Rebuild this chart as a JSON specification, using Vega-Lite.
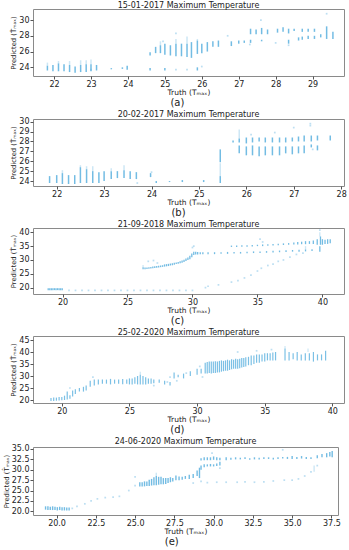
{
"$schema": "https://vega.github.io/schema/vega-lite/v6.json",
"padding": {"left": 2, "top": 1, "right": 2, "bottom": 0},
"columns": 1,
"align": "none",
"spacing": 2,
"config": {
  "font": "DejaVu Sans",
  "view": {"stroke": "#8a8a8a", "strokeWidth": 1},
  "axis": {"grid": false, "domain": false, "tickColor": "#555", "tickSize": 3, "labelFontSize": 8, "labelColor": "#222", "titleFontWeight": "normal", "titleColor": "#222", "labelPadding": 1, "labelOverlap": false, "labelFlush": false},
  "axisX": {"titlePadding": 0, "titleFontSize": 7.5},
  "axisY": {"titlePadding": 2, "titleFontSize": 6.8},
  "title": {"fontSize": 8, "fontWeight": "normal", "color": "#222", "offset": -1, "anchor": "middle"}
},
"datasets": {
  "a_core": [
    {"truth":21.82,"pred":23.6,"pred_hi":24.2},{"truth":21.97,"pred":23.5,"pred_hi":24.3},{"truth":22.12,"pred":23.5,"pred_hi":24.5},{"truth":22.27,"pred":23.5,"pred_hi":24.4},{"truth":22.42,"pred":23.4,"pred_hi":24.3},{"truth":22.57,"pred":23.3,"pred_hi":24.1},{"truth":22.72,"pred":23.4,"pred_hi":24.3},{"truth":22.87,"pred":23.4,"pred_hi":24.4},{"truth":23.0,"pred":23.5,"pred_hi":24.4},{"truth":23.15,"pred":23.6,"pred_hi":24.3},{"truth":23.55,"pred":23.75,"pred_hi":23.9},{"truth":23.85,"pred":23.8,"pred_hi":24.0},{"truth":23.98,"pred":23.7,"pred_hi":24.2},
    {"truth":24.6,"pred":25.5,"pred_hi":25.9},{"truth":24.6,"pred":23.6,"pred_hi":23.9},{"truth":24.75,"pred":25.8,"pred_hi":26.6},{"truth":24.88,"pred":25.8,"pred_hi":26.8},{"truth":25.0,"pred":25.6,"pred_hi":27.0},{"truth":25.0,"pred":23.6,"pred_hi":23.9},{"truth":25.15,"pred":25.5,"pred_hi":26.8},{"truth":25.3,"pred":25.4,"pred_hi":27.0},{"truth":25.45,"pred":25.4,"pred_hi":27.0},{"truth":25.6,"pred":25.3,"pred_hi":27.0},{"truth":25.72,"pred":25.2,"pred_hi":27.2},{"truth":25.88,"pred":25.7,"pred_hi":27.4},{"truth":25.88,"pred":23.6,"pred_hi":24.0},{"truth":26.0,"pred":25.8,"pred_hi":27.0},{"truth":26.15,"pred":26.0,"pred_hi":27.2},{"truth":26.3,"pred":26.6,"pred_hi":27.3},{"truth":26.45,"pred":26.6,"pred_hi":27.4},
    {"truth":26.8,"pred":26.7,"pred_hi":27.3},{"truth":27.0,"pred":27.0,"pred_hi":27.4},{"truth":27.15,"pred":27.1,"pred_hi":27.4},{"truth":27.32,"pred":27.1,"pred_hi":27.5},{"truth":27.32,"pred":28.2,"pred_hi":28.9},{"truth":27.47,"pred":28.2,"pred_hi":28.8},{"truth":27.62,"pred":28.2,"pred_hi":29.0},{"truth":27.62,"pred":27.3,"pred_hi":27.5},{"truth":27.78,"pred":28.2,"pred_hi":28.8},{"truth":28.05,"pred":28.4,"pred_hi":28.9},{"truth":28.2,"pred":28.5,"pred_hi":29.1},{"truth":28.35,"pred":28.3,"pred_hi":28.9},{"truth":28.35,"pred":27.0,"pred_hi":27.5},{"truth":28.5,"pred":28.6,"pred_hi":28.9},{"truth":28.62,"pred":27.4,"pred_hi":27.8},{"truth":28.72,"pred":28.5,"pred_hi":28.9},{"truth":28.72,"pred":27.5,"pred_hi":27.9},{"truth":28.88,"pred":28.5,"pred_hi":28.9},{"truth":28.88,"pred":27.6,"pred_hi":28.0},{"truth":29.05,"pred":28.5,"pred_hi":28.9},{"truth":29.05,"pred":27.6,"pred_hi":28.0},{"truth":29.22,"pred":27.8,"pred_hi":28.2},{"truth":29.38,"pred":27.6,"pred_hi":29.2},{"truth":29.55,"pred":27.6,"pred_hi":28.5}
  ],
  "a_faint": [
    {"truth":21.82,"pred":24.2,"pred_hi":24.6},{"truth":22.12,"pred":24.5,"pred_hi":24.8},{"truth":22.42,"pred":24.3,"pred_hi":24.8},{"truth":22.72,"pred":24.3,"pred_hi":24.9},{"truth":23.0,"pred":24.4,"pred_hi":25.0},{"truth":22.87,"pred":24.4,"pred_hi":24.9},{"truth":25.3,"pred":27.0,"pred_hi":27.6},{"truth":24.88,"pred":26.8,"pred_hi":27.3},{"truth":25.6,"pred":27.0,"pred_hi":27.9},{"truth":25.88,"pred":27.4,"pred_hi":27.6}
  ],
  "a_pts": [
    {"truth":27.6,"pred":30.0},{"truth":29.38,"pred":30.8},{"truth":26.7,"pred":28.0},{"truth":25.3,"pred":28.3},{"truth":24.95,"pred":27.3},{"truth":25.6,"pred":23.7},{"truth":25.3,"pred":23.7},{"truth":26.0,"pred":24.1},{"truth":28.35,"pred":26.8},{"truth":27.3,"pred":26.9},{"truth":28.0,"pred":27.1},{"truth":23.0,"pred":23.7}
  ],
  "b_core": [
    {"truth":21.85,"pred":23.8,"pred_hi":24.5},{"truth":22.0,"pred":23.8,"pred_hi":24.6},{"truth":22.12,"pred":23.7,"pred_hi":24.8},{"truth":22.25,"pred":23.7,"pred_hi":24.6},{"truth":22.38,"pred":23.7,"pred_hi":24.6},{"truth":22.5,"pred":23.8,"pred_hi":25.4},{"truth":22.63,"pred":23.8,"pred_hi":25.2},{"truth":22.76,"pred":23.8,"pred_hi":25.0},{"truth":22.89,"pred":23.8,"pred_hi":24.9},{"truth":23.0,"pred":24.0,"pred_hi":25.0},{"truth":23.15,"pred":24.2,"pred_hi":25.0},{"truth":23.28,"pred":24.3,"pred_hi":25.0},{"truth":23.42,"pred":24.3,"pred_hi":25.1},{"truth":23.55,"pred":24.2,"pred_hi":25.0},{"truth":23.68,"pred":24.2,"pred_hi":24.9},{"truth":23.98,"pred":24.4,"pred_hi":24.8},{"truth":24.1,"pred":23.8,"pred_hi":24.0},{"truth":24.38,"pred":23.9,"pred_hi":24.0},{"truth":24.65,"pred":23.9,"pred_hi":24.1},{"truth":25.1,"pred":23.9,"pred_hi":24.1},
    {"truth":25.45,"pred":25.9,"pred_hi":27.2},{"truth":25.45,"pred":23.8,"pred_hi":24.5},{"truth":25.72,"pred":27.9,"pred_hi":28.1},{"truth":25.85,"pred":26.8,"pred_hi":27.6},{"truth":25.85,"pred":27.9,"pred_hi":28.3},
    {"truth":26.0,"pred":26.6,"pred_hi":27.5},{"truth":26.0,"pred":27.8,"pred_hi":28.4},{"truth":26.13,"pred":26.6,"pred_hi":27.6},{"truth":26.13,"pred":27.9,"pred_hi":28.4},{"truth":26.27,"pred":26.5,"pred_hi":27.5},{"truth":26.27,"pred":28.0,"pred_hi":28.4},{"truth":26.4,"pred":26.6,"pred_hi":27.5},{"truth":26.4,"pred":27.9,"pred_hi":28.4},{"truth":26.55,"pred":26.6,"pred_hi":27.5},{"truth":26.55,"pred":27.9,"pred_hi":28.4},{"truth":26.7,"pred":26.6,"pred_hi":27.5},{"truth":26.7,"pred":27.9,"pred_hi":28.4},{"truth":26.83,"pred":26.8,"pred_hi":27.5},{"truth":26.83,"pred":27.9,"pred_hi":28.4},{"truth":26.97,"pred":26.7,"pred_hi":27.5},{"truth":26.97,"pred":28.0,"pred_hi":28.4},{"truth":27.1,"pred":26.8,"pred_hi":27.5},{"truth":27.1,"pred":28.0,"pred_hi":28.5},{"truth":27.22,"pred":26.8,"pred_hi":27.6},{"truth":27.22,"pred":28.0,"pred_hi":28.6},{"truth":27.37,"pred":27.4,"pred_hi":27.7},{"truth":27.37,"pred":28.0,"pred_hi":28.6},{"truth":27.5,"pred":27.1,"pred_hi":27.6},{"truth":27.5,"pred":28.1,"pred_hi":28.6},{"truth":27.77,"pred":28.1,"pred_hi":28.6}
  ],
  "b_faint": [
    {"truth":22.12,"pred":24.8,"pred_hi":25.1},{"truth":22.5,"pred":25.4,"pred_hi":25.6},{"truth":22.63,"pred":25.2,"pred_hi":25.5},{"truth":22.76,"pred":25.0,"pred_hi":25.5},{"truth":23.42,"pred":25.1,"pred_hi":25.6},{"truth":23.15,"pred":25.0,"pred_hi":25.3},{"truth":25.45,"pred":24.5,"pred_hi":25.8},{"truth":25.85,"pred":28.3,"pred_hi":29.2}
  ],
  "b_pts": [
    {"truth":27.0,"pred":29.4},{"truth":27.35,"pred":29.8},{"truth":27.35,"pred":29.6},{"truth":26.6,"pred":28.9},{"truth":26.1,"pred":28.7},{"truth":24.0,"pred":24.9},{"truth":23.7,"pred":23.8},{"truth":27.4,"pred":27.2}
  ],
  "c_core": [
    {"truth":18.9,"pred":19.1,"pred_hi":19.8},{"truth":19.02,"pred":19.1,"pred_hi":19.8},{"truth":19.14,"pred":19.1,"pred_hi":19.8},{"truth":19.26,"pred":19.1,"pred_hi":19.8},{"truth":19.38,"pred":19.1,"pred_hi":19.8},{"truth":19.5,"pred":19.1,"pred_hi":19.8},{"truth":19.62,"pred":19.1,"pred_hi":19.8},{"truth":19.74,"pred":19.1,"pred_hi":19.8},{"truth":19.86,"pred":19.1,"pred_hi":19.8},{"truth":19.98,"pred":19.1,"pred_hi":19.8},
    {"truth":26.2,"pred":26.6,"pred_hi":27.4},{"truth":26.35,"pred":26.6,"pred_hi":27.3},{"truth":26.5,"pred":26.7,"pred_hi":27.3},{"truth":26.65,"pred":26.8,"pred_hi":27.4},{"truth":26.8,"pred":26.9,"pred_hi":27.5},{"truth":26.95,"pred":27.0,"pred_hi":27.6},{"truth":27.1,"pred":27.1,"pred_hi":27.7},{"truth":27.25,"pred":27.2,"pred_hi":27.8},{"truth":27.4,"pred":27.3,"pred_hi":27.9},{"truth":27.55,"pred":27.4,"pred_hi":28.0},{"truth":27.7,"pred":27.5,"pred_hi":28.1},{"truth":27.85,"pred":27.6,"pred_hi":28.4},{"truth":28.0,"pred":27.7,"pred_hi":28.5},{"truth":28.15,"pred":27.8,"pred_hi":28.6},{"truth":28.3,"pred":28.0,"pred_hi":28.7},{"truth":28.45,"pred":28.1,"pred_hi":28.8},{"truth":28.6,"pred":28.3,"pred_hi":29.0},{"truth":28.75,"pred":28.5,"pred_hi":29.1},{"truth":28.9,"pred":28.6,"pred_hi":29.3},{"truth":29.05,"pred":28.8,"pred_hi":29.5},{"truth":29.2,"pred":29.0,"pred_hi":29.8},{"truth":29.35,"pred":29.3,"pred_hi":30.1},{"truth":29.5,"pred":29.6,"pred_hi":30.5},{"truth":29.65,"pred":30.0,"pred_hi":30.9},{"truth":29.8,"pred":30.3,"pred_hi":31.5},{"truth":29.95,"pred":31.0,"pred_hi":32.3},{"truth":30.1,"pred":31.8,"pred_hi":33.0},{"truth":30.25,"pred":32.0,"pred_hi":33.0},{"truth":30.4,"pred":32.0,"pred_hi":32.9},{"truth":30.6,"pred":32.1,"pred_hi":32.8},{"truth":30.8,"pred":32.1,"pred_hi":32.8},
    {"truth":31.2,"pred":32.1,"pred_hi":32.8},{"truth":31.7,"pred":32.1,"pred_hi":32.8},{"truth":32.2,"pred":32.2,"pred_hi":32.8},{"truth":32.7,"pred":32.2,"pred_hi":32.9},{"truth":33.2,"pred":32.3,"pred_hi":32.9},{"truth":33.7,"pred":32.3,"pred_hi":32.9},{"truth":34.2,"pred":32.4,"pred_hi":33.0},{"truth":34.7,"pred":32.5,"pred_hi":33.1},{"truth":35.2,"pred":32.5,"pred_hi":33.1},{"truth":35.7,"pred":32.6,"pred_hi":33.2},{"truth":36.2,"pred":32.7,"pred_hi":33.3},{"truth":36.7,"pred":32.8,"pred_hi":33.4},{"truth":37.2,"pred":32.9,"pred_hi":33.5},{"truth":37.7,"pred":33.0,"pred_hi":33.6},{"truth":38.2,"pred":33.0,"pred_hi":33.7},{"truth":38.7,"pred":33.1,"pred_hi":33.8},{"truth":39.2,"pred":33.2,"pred_hi":33.9},
    {"truth":33.0,"pred":34.7,"pred_hi":35.2},{"truth":33.4,"pred":34.7,"pred_hi":35.2},{"truth":33.8,"pred":34.8,"pred_hi":35.3},{"truth":34.2,"pred":34.8,"pred_hi":35.3},{"truth":34.6,"pred":34.9,"pred_hi":35.4},{"truth":35.0,"pred":35.0,"pred_hi":35.5},{"truth":35.4,"pred":35.0,"pred_hi":35.6},{"truth":35.8,"pred":35.1,"pred_hi":35.7},{"truth":36.2,"pred":35.2,"pred_hi":35.8},{"truth":36.6,"pred":35.3,"pred_hi":35.9},{"truth":37.0,"pred":35.4,"pred_hi":36.0},{"truth":37.4,"pred":35.5,"pred_hi":36.1},{"truth":37.8,"pred":35.6,"pred_hi":36.3},{"truth":38.1,"pred":35.6,"pred_hi":36.5},{"truth":38.4,"pred":35.7,"pred_hi":36.6},{"truth":38.7,"pred":35.7,"pred_hi":36.8},{"truth":39.0,"pred":35.8,"pred_hi":36.8},{"truth":39.3,"pred":35.8,"pred_hi":37.0},
    {"truth":39.6,"pred":35.5,"pred_hi":37.5},{"truth":39.8,"pred":33.0,"pred_hi":35.0},{"truth":39.85,"pred":35.5,"pred_hi":38.5},{"truth":40.0,"pred":35.5,"pred_hi":37.5},{"truth":40.2,"pred":35.8,"pred_hi":37.3},{"truth":40.4,"pred":35.8,"pred_hi":37.5},{"truth":40.6,"pred":36.0,"pred_hi":37.5}
  ],
  "c_faint": [
    {"truth":26.2,"pred":27.4,"pred_hi":28.2},{"truth":38.7,"pred":33.8,"pred_hi":35.0},{"truth":39.8,"pred":38.5,"pred_hi":40.0}
  ],
  "c_pts": [
    {"truth":20.5,"pred":19.0},{"truth":21.0,"pred":19.0},{"truth":21.5,"pred":19.0},{"truth":22.0,"pred":19.0},{"truth":22.5,"pred":19.0},{"truth":23.0,"pred":19.0},{"truth":23.5,"pred":19.0},{"truth":24.0,"pred":19.0},{"truth":24.5,"pred":19.0},{"truth":25.0,"pred":19.0},{"truth":25.5,"pred":19.0},{"truth":26.0,"pred":19.0},{"truth":26.5,"pred":19.0},{"truth":27.0,"pred":19.0},{"truth":27.5,"pred":19.0},{"truth":28.0,"pred":19.0},{"truth":28.5,"pred":19.0},{"truth":29.0,"pred":19.0},{"truth":29.5,"pred":19.0},{"truth":30.0,"pred":19.0},
    {"truth":26.6,"pred":29.5},{"truth":27.0,"pred":29.8},{"truth":27.3,"pred":28.9},{"truth":30.0,"pred":34.5},{"truth":30.1,"pred":35.0},{"truth":35.2,"pred":37.5},{"truth":35.4,"pred":36.5},{"truth":39.8,"pred":40.8},
    {"truth":31.0,"pred":20.0},{"truth":31.2,"pred":20.5},{"truth":32.0,"pred":21.0},{"truth":33.0,"pred":22.0},{"truth":33.5,"pred":22.5},{"truth":34.0,"pred":23.5},{"truth":34.5,"pred":24.5},{"truth":35.0,"pred":26.0},{"truth":35.3,"pred":27.0},{"truth":35.8,"pred":28.0},{"truth":36.2,"pred":28.5},{"truth":36.6,"pred":29.5},{"truth":37.0,"pred":30.0},{"truth":37.5,"pred":31.0},{"truth":38.0,"pred":32.0},{"truth":38.5,"pred":32.5}
  ],
  "d_core": [
    {"truth":19.2,"pred":19.6,"pred_hi":20.8},{"truth":19.4,"pred":19.6,"pred_hi":21.0},{"truth":19.6,"pred":19.7,"pred_hi":21.0},{"truth":19.8,"pred":19.8,"pred_hi":21.2},{"truth":20.0,"pred":19.9,"pred_hi":21.3},{"truth":20.2,"pred":20.0,"pred_hi":21.8},{"truth":20.4,"pred":20.2,"pred_hi":23.5},{"truth":20.6,"pred":20.5,"pred_hi":22.0},{"truth":20.8,"pred":21.5,"pred_hi":24.0},{"truth":21.0,"pred":22.5,"pred_hi":24.5},{"truth":21.3,"pred":23.5,"pred_hi":25.0},{"truth":21.6,"pred":23.5,"pred_hi":25.5},{"truth":21.8,"pred":24.0,"pred_hi":26.0},
    {"truth":22.1,"pred":25.5,"pred_hi":28.0},{"truth":22.4,"pred":26.0,"pred_hi":28.5},{"truth":22.7,"pred":26.5,"pred_hi":28.5},{"truth":23.0,"pred":26.8,"pred_hi":28.5},{"truth":23.3,"pred":26.8,"pred_hi":28.5},{"truth":23.6,"pred":26.5,"pred_hi":28.8},{"truth":23.9,"pred":26.8,"pred_hi":28.5},{"truth":24.2,"pred":26.8,"pred_hi":28.5},{"truth":24.5,"pred":26.6,"pred_hi":28.8},{"truth":24.8,"pred":26.8,"pred_hi":28.5},{"truth":25.0,"pred":26.5,"pred_hi":29.0},{"truth":25.2,"pred":26.5,"pred_hi":29.0},{"truth":25.4,"pred":26.8,"pred_hi":29.5},{"truth":25.6,"pred":26.5,"pred_hi":30.0},{"truth":25.8,"pred":26.5,"pred_hi":30.5},{"truth":26.0,"pred":26.5,"pred_hi":30.0},{"truth":26.2,"pred":26.5,"pred_hi":29.5},{"truth":26.4,"pred":26.8,"pred_hi":29.0},{"truth":26.6,"pred":26.8,"pred_hi":29.0},{"truth":26.8,"pred":27.0,"pred_hi":28.5},{"truth":27.2,"pred":27.2,"pred_hi":28.5},{"truth":27.6,"pred":26.5,"pred_hi":28.0},{"truth":28.0,"pred":26.0,"pred_hi":27.5},
    {"truth":28.3,"pred":29.0,"pred_hi":31.5},{"truth":28.6,"pred":29.5,"pred_hi":30.5},{"truth":29.0,"pred":29.0,"pred_hi":31.0},{"truth":29.5,"pred":30.0,"pred_hi":32.0},{"truth":30.0,"pred":30.5,"pred_hi":33.0},{"truth":30.3,"pred":31.0,"pred_hi":33.0},
    {"truth":30.6,"pred":31.0,"pred_hi":35.5},{"truth":30.75,"pred":31.0,"pred_hi":35.8},{"truth":30.9,"pred":31.2,"pred_hi":36.0},{"truth":31.05,"pred":31.0,"pred_hi":36.0},{"truth":31.2,"pred":31.3,"pred_hi":36.0},{"truth":31.35,"pred":31.2,"pred_hi":36.2},{"truth":31.5,"pred":31.5,"pred_hi":36.0},{"truth":31.65,"pred":31.5,"pred_hi":36.3},{"truth":31.8,"pred":31.8,"pred_hi":36.5},{"truth":31.95,"pred":32.0,"pred_hi":36.3},{"truth":32.1,"pred":32.2,"pred_hi":36.5},{"truth":32.25,"pred":32.2,"pred_hi":36.8},{"truth":32.4,"pred":32.5,"pred_hi":36.5},{"truth":32.55,"pred":32.8,"pred_hi":37.0},{"truth":32.7,"pred":33.0,"pred_hi":36.8},{"truth":32.85,"pred":33.0,"pred_hi":37.2},{"truth":33.0,"pred":33.0,"pred_hi":37.0},{"truth":33.15,"pred":33.2,"pred_hi":37.2},{"truth":33.3,"pred":33.5,"pred_hi":37.5},{"truth":33.45,"pred":33.8,"pred_hi":37.5},{"truth":33.6,"pred":34.0,"pred_hi":37.8},{"truth":33.8,"pred":34.5,"pred_hi":38.0},{"truth":34.0,"pred":34.5,"pred_hi":38.5},{"truth":34.2,"pred":35.0,"pred_hi":38.5},{"truth":34.4,"pred":35.5,"pred_hi":39.0},{"truth":34.6,"pred":35.5,"pred_hi":39.0},{"truth":34.8,"pred":36.0,"pred_hi":39.0},{"truth":35.0,"pred":36.0,"pred_hi":39.5},{"truth":35.2,"pred":36.5,"pred_hi":39.5},{"truth":35.4,"pred":36.5,"pred_hi":39.5},{"truth":35.6,"pred":36.5,"pred_hi":39.8},{"truth":35.8,"pred":36.5,"pred_hi":40.0},
    {"truth":36.5,"pred":36.5,"pred_hi":41.5},{"truth":36.8,"pred":36.5,"pred_hi":40.0},{"truth":37.1,"pred":37.0,"pred_hi":39.5},{"truth":37.4,"pred":36.5,"pred_hi":40.0},{"truth":37.7,"pred":36.5,"pred_hi":39.0},{"truth":38.0,"pred":36.5,"pred_hi":39.5},{"truth":38.3,"pred":36.5,"pred_hi":39.5},{"truth":38.6,"pred":36.0,"pred_hi":40.0},{"truth":38.9,"pred":36.5,"pred_hi":39.0},{"truth":39.2,"pred":36.5,"pred_hi":39.0},{"truth":39.5,"pred":36.5,"pred_hi":40.5}
  ],
  "d_faint": [
    {"truth":25.8,"pred":30.5,"pred_hi":31.8},{"truth":36.5,"pred":41.5,"pred_hi":42.5},{"truth":38.2,"pred":40.0,"pred_hi":41.5}
  ],
  "d_pts": [
    {"truth":22.3,"pred":29.5},{"truth":28.5,"pred":28.0},{"truth":29.2,"pred":31.2},{"truth":30.2,"pred":34.0},{"truth":33.0,"pred":40.0},{"truth":34.4,"pred":40.5},{"truth":20.6,"pred":25.0},{"truth":27.8,"pred":27.5},{"truth":28.0,"pred":29.5},{"truth":26.8,"pred":26.0},{"truth":30.4,"pred":29.6},{"truth":35.5,"pred":41.0}
  ],
  "e_core": [
    {"truth":19.3,"pred":20.4,"pred_hi":21.2},{"truth":19.45,"pred":20.3,"pred_hi":21.2},{"truth":19.6,"pred":20.3,"pred_hi":21.1},{"truth":19.75,"pred":20.3,"pred_hi":21.2},{"truth":19.9,"pred":20.3,"pred_hi":21.1},{"truth":20.05,"pred":20.2,"pred_hi":21.0},{"truth":20.2,"pred":20.3,"pred_hi":21.1},{"truth":20.35,"pred":20.2,"pred_hi":21.0},{"truth":20.5,"pred":20.2,"pred_hi":21.0},{"truth":20.65,"pred":20.2,"pred_hi":20.9},{"truth":20.8,"pred":20.2,"pred_hi":20.9},
    {"truth":25.3,"pred":26.0,"pred_hi":27.0},{"truth":25.45,"pred":26.0,"pred_hi":27.0},{"truth":25.6,"pred":26.0,"pred_hi":27.2},{"truth":25.75,"pred":26.1,"pred_hi":27.2},{"truth":25.9,"pred":26.1,"pred_hi":27.6},{"truth":26.05,"pred":26.2,"pred_hi":27.8},{"truth":26.2,"pred":26.3,"pred_hi":28.2},{"truth":26.35,"pred":26.3,"pred_hi":28.5},{"truth":26.5,"pred":26.4,"pred_hi":28.3},{"truth":26.65,"pred":26.5,"pred_hi":28.3},{"truth":26.8,"pred":26.5,"pred_hi":28.0},{"truth":26.95,"pred":26.6,"pred_hi":28.0},{"truth":27.1,"pred":26.8,"pred_hi":28.0},{"truth":27.25,"pred":27.0,"pred_hi":28.2},{"truth":27.4,"pred":27.2,"pred_hi":28.0},{"truth":27.6,"pred":27.5,"pred_hi":28.6},{"truth":27.8,"pred":27.5,"pred_hi":28.4},{"truth":28.0,"pred":27.6,"pred_hi":28.3},{"truth":28.2,"pred":27.8,"pred_hi":28.5},{"truth":28.45,"pred":27.8,"pred_hi":28.8},{"truth":28.7,"pred":28.0,"pred_hi":29.0},{"truth":28.95,"pred":28.5,"pred_hi":29.8},{"truth":29.1,"pred":28.0,"pred_hi":30.5},
    {"truth":29.2,"pred":30.0,"pred_hi":31.0},{"truth":29.2,"pred":32.2,"pred_hi":32.8},{"truth":29.4,"pred":30.6,"pred_hi":31.3},{"truth":29.4,"pred":32.3,"pred_hi":33.0},{"truth":29.6,"pred":30.8,"pred_hi":31.3},{"truth":29.6,"pred":32.3,"pred_hi":33.0},{"truth":29.8,"pred":30.8,"pred_hi":31.4},{"truth":29.8,"pred":32.3,"pred_hi":33.0},{"truth":30.0,"pred":30.8,"pred_hi":31.3},{"truth":30.0,"pred":32.4,"pred_hi":33.2},{"truth":30.2,"pred":30.9,"pred_hi":31.5},{"truth":30.2,"pred":32.3,"pred_hi":33.0},{"truth":30.4,"pred":31.0,"pred_hi":31.9},{"truth":30.4,"pred":32.3,"pred_hi":32.9},
    {"truth":30.8,"pred":32.3,"pred_hi":33.0},{"truth":31.1,"pred":32.4,"pred_hi":32.9},{"truth":31.4,"pred":32.5,"pred_hi":33.0},{"truth":31.7,"pred":32.5,"pred_hi":32.9},{"truth":32.0,"pred":32.6,"pred_hi":33.0},{"truth":32.3,"pred":32.4,"pred_hi":32.8},{"truth":32.6,"pred":32.5,"pred_hi":33.0},{"truth":32.9,"pred":32.5,"pred_hi":32.9},{"truth":33.2,"pred":32.6,"pred_hi":33.0},{"truth":33.5,"pred":32.6,"pred_hi":33.0},{"truth":33.8,"pred":32.5,"pred_hi":32.9},{"truth":34.1,"pred":32.6,"pred_hi":33.0},{"truth":34.4,"pred":32.7,"pred_hi":33.1},{"truth":34.7,"pred":32.6,"pred_hi":33.1},{"truth":35.0,"pred":32.6,"pred_hi":33.3},{"truth":35.3,"pred":32.6,"pred_hi":33.1},{"truth":35.6,"pred":32.7,"pred_hi":33.3},{"truth":35.9,"pred":32.6,"pred_hi":33.1},{"truth":36.2,"pred":32.6,"pred_hi":33.0},
    {"truth":36.6,"pred":32.8,"pred_hi":33.5},{"truth":36.9,"pred":33.0,"pred_hi":33.8},{"truth":37.2,"pred":33.0,"pred_hi":34.0},{"truth":37.4,"pred":33.2,"pred_hi":34.3},{"truth":37.55,"pred":33.0,"pred_hi":34.5}
  ],
  "e_faint": [
    {"truth":26.35,"pred":28.5,"pred_hi":29.3},{"truth":36.4,"pred":29.5,"pred_hi":31.0}
  ],
  "e_pts": [
    {"truth":21.0,"pred":20.7},{"truth":21.3,"pred":21.2},{"truth":21.8,"pred":21.8},{"truth":22.2,"pred":22.5},{"truth":22.6,"pred":23.0},{"truth":23.1,"pred":23.3},{"truth":23.6,"pred":23.4},{"truth":24.0,"pred":23.6},{"truth":24.6,"pred":25.0},{"truth":25.0,"pred":26.2},{"truth":25.0,"pred":28.3},{"truth":29.2,"pred":27.2},{"truth":29.6,"pred":26.9},{"truth":30.2,"pred":27.0},{"truth":30.8,"pred":27.0},{"truth":31.5,"pred":27.0},{"truth":32.0,"pred":27.1},{"truth":32.6,"pred":27.0},{"truth":33.2,"pred":27.1},{"truth":33.8,"pred":27.3},{"truth":34.5,"pred":27.5},{"truth":35.0,"pred":27.5},{"truth":35.4,"pred":27.8},{"truth":35.8,"pred":28.5},{"truth":36.2,"pred":29.5},{"truth":36.6,"pred":31.0},{"truth":29.9,"pred":34.0},{"truth":34.4,"pred":34.8},{"truth":28.7,"pred":26.8},{"truth":30.4,"pred":30.4}
  ]
},
"concat": [
  {"vconcat": [{
    "title": "15-01-2017 Maximum Temperature",
    "width": 311, "height": 67,
    "encoding": {
      "x": {"field": "truth", "type": "quantitative", "scale": {"domain": [21.43, 29.85], "nice": false, "zero": false}, "axis": {"values": [22,23,24,25,26,27,28,29], "labelOverlap": false, "title": "Truth (Tₘₐₓ)"}},
      "y": {"field": "pred", "type": "quantitative", "scale": {"domain": [22.9, 31.4], "nice": false, "zero": false}, "axis": {"values": [24,26,28,30], "labelOverlap": false, "title": "Predicted (T̂ₘₐₓ)"}}
    },
    "layer": [
      {"data": {"name": "a_faint"}, "mark": {"type": "rule", "strokeWidth": 1.5, "color": "#5ab0de", "opacity": 0.3}, "encoding": {"y2": {"field": "pred_hi"}}},
      {"data": {"name": "a_core"}, "mark": {"type": "rule", "strokeWidth": 1.5, "color": "#5ab0de", "opacity": 0.85}, "encoding": {"y2": {"field": "pred_hi"}}},
      {"data": {"name": "a_pts"}, "mark": {"type": "square", "size": 3, "color": "#5ab0de", "opacity": 0.4}}
    ]}], "title": {"text": "(a)", "orient": "bottom", "fontSize": 10, "offset": 2, "anchor": "middle"}},
  {"vconcat": [{
    "title": "20-02-2017 Maximum Temperature",
    "width": 311, "height": 67,
    "encoding": {
      "x": {"field": "truth", "type": "quantitative", "scale": {"domain": [21.5, 28.06], "nice": false, "zero": false}, "axis": {"values": [22,23,24,25,26,27,28], "labelOverlap": false, "title": "Truth (Tₘₐₓ)"}},
      "y": {"field": "pred", "type": "quantitative", "scale": {"domain": [23.5, 30.27], "nice": false, "zero": false}, "axis": {"values": [24,25,26,27,28,29,30], "labelOverlap": false, "title": "Predicted (T̂ₘₐₓ)"}}
    },
    "layer": [
      {"data": {"name": "b_faint"}, "mark": {"type": "rule", "strokeWidth": 1.5, "color": "#5ab0de", "opacity": 0.3}, "encoding": {"y2": {"field": "pred_hi"}}},
      {"data": {"name": "b_core"}, "mark": {"type": "rule", "strokeWidth": 1.5, "color": "#5ab0de", "opacity": 0.85}, "encoding": {"y2": {"field": "pred_hi"}}},
      {"data": {"name": "b_pts"}, "mark": {"type": "square", "size": 3, "color": "#5ab0de", "opacity": 0.4}}
    ]}], "title": {"text": "(b)", "orient": "bottom", "fontSize": 10, "offset": 2, "anchor": "middle"}},
  {"vconcat": [{
    "title": "21-09-2018 Maximum Temperature",
    "width": 311, "height": 66,
    "encoding": {
      "x": {"field": "truth", "type": "quantitative", "scale": {"domain": [17.73, 41.66], "nice": false, "zero": false}, "axis": {"values": [20,25,30,35,40], "labelOverlap": false, "title": "Truth (Tₘₐₓ)"}},
      "y": {"field": "pred", "type": "quantitative", "scale": {"domain": [17.7, 41.55], "nice": false, "zero": false}, "axis": {"values": [20,25,30,35,40], "labelOverlap": false, "title": "Predicted (T̂ₘₐₓ)"}}
    },
    "layer": [
      {"data": {"name": "c_faint"}, "mark": {"type": "rule", "strokeWidth": 1.3, "color": "#5ab0de", "opacity": 0.3}, "encoding": {"y2": {"field": "pred_hi"}}},
      {"data": {"name": "c_core"}, "mark": {"type": "rule", "strokeWidth": 1.3, "color": "#5ab0de", "opacity": 0.85}, "encoding": {"y2": {"field": "pred_hi"}}},
      {"data": {"name": "c_pts"}, "mark": {"type": "square", "size": 3, "color": "#5ab0de", "opacity": 0.4}}
    ]}], "title": {"text": "(c)", "orient": "bottom", "fontSize": 10, "offset": 2, "anchor": "middle"}},
  {"vconcat": [{
    "title": "25-02-2020 Maximum Temperature",
    "width": 311, "height": 67,
    "encoding": {
      "x": {"field": "truth", "type": "quantitative", "scale": {"domain": [17.87, 40.86], "nice": false, "zero": false}, "axis": {"values": [20,25,30,35,40], "labelOverlap": false, "title": "Truth (Tₘₐₓ)"}},
      "y": {"field": "pred", "type": "quantitative", "scale": {"domain": [18.75, 46.67], "nice": false, "zero": false}, "axis": {"values": [20,25,30,35,40,45], "labelOverlap": false, "title": "Predicted (T̂ₘₐₓ)"}}
    },
    "layer": [
      {"data": {"name": "d_faint"}, "mark": {"type": "rule", "strokeWidth": 1.2, "color": "#5ab0de", "opacity": 0.3}, "encoding": {"y2": {"field": "pred_hi"}}},
      {"data": {"name": "d_core"}, "mark": {"type": "rule", "strokeWidth": 1.2, "color": "#5ab0de", "opacity": 0.8}, "encoding": {"y2": {"field": "pred_hi"}}},
      {"data": {"name": "d_pts"}, "mark": {"type": "square", "size": 3, "color": "#5ab0de", "opacity": 0.4}}
    ]}], "title": {"text": "(d)", "orient": "bottom", "fontSize": 10, "offset": 2, "anchor": "middle"}},
  {"vconcat": [{
    "title": "24-06-2020 Maximum Temperature",
    "width": 305, "height": 68,
    "encoding": {
      "x": {"field": "truth", "type": "quantitative", "scale": {"domain": [18.5, 37.92], "nice": false, "zero": false}, "axis": {"values": [20,22.5,25,27.5,30,32.5,35,37.5], "format": ".1f", "labelOverlap": false, "title": "Truth (Tₘₐₓ)"}},
      "y": {"field": "pred", "type": "quantitative", "scale": {"domain": [19.11, 35.48], "nice": false, "zero": false}, "axis": {"values": [20,22.5,25,27.5,30,32.5,35], "format": ".1f", "labelOverlap": false, "title": "Predicted (T̂ₘₐₓ)"}}
    },
    "layer": [
      {"data": {"name": "e_faint"}, "mark": {"type": "rule", "strokeWidth": 1.4, "color": "#5ab0de", "opacity": 0.3}, "encoding": {"y2": {"field": "pred_hi"}}},
      {"data": {"name": "e_core"}, "mark": {"type": "rule", "strokeWidth": 1.4, "color": "#5ab0de", "opacity": 0.85}, "encoding": {"y2": {"field": "pred_hi"}}},
      {"data": {"name": "e_pts"}, "mark": {"type": "square", "size": 3, "color": "#5ab0de", "opacity": 0.4}}
    ]}], "title": {"text": "(e)", "orient": "bottom", "fontSize": 10, "offset": 2, "anchor": "middle"}}
]
}
